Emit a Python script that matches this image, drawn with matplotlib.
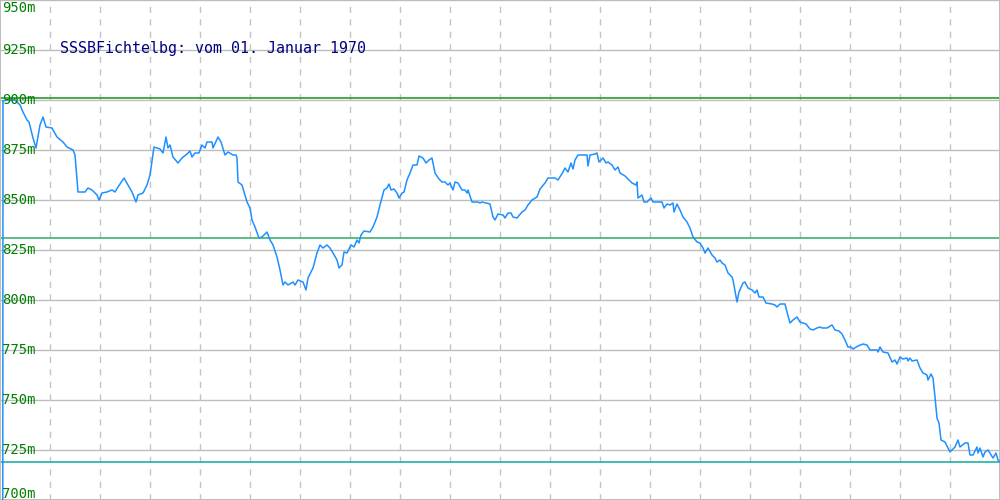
import numpy as np
import matplotlib
matplotlib.use("Agg")
import matplotlib.pyplot as plt
import matplotlib.transforms as mtransforms

# x position along the chart (pixel columns of the original), height in m
t = [2, 3, 7, 10, 15, 20, 23, 27, 29, 33, 36, 40, 43, 46, 52, 57, 63, 67, 73, 75,
     78, 85, 88, 92, 97, 99, 102, 107, 112, 115, 118, 124, 128, 132, 136, 138, 143, 147, 150, 154,
     160, 163, 166, 168, 170, 173, 178, 182, 187, 190, 192, 195, 199, 202, 205, 207, 212, 213, 218, 221,
     225, 228, 233, 236, 237, 238, 242, 245, 247, 250, 252, 255, 259, 262, 267, 270, 273, 277, 280, 283,
     285, 288, 293, 295, 298, 303, 306, 308, 313, 317, 320, 323, 327, 330, 333, 337, 339, 342, 344, 347,
     351, 354, 357, 359, 361, 364, 370, 373, 377, 380, 384, 387, 389, 391, 394, 397, 399, 402, 404, 407,
     410, 413, 417, 419, 423, 426, 429, 432, 435, 439, 442, 445, 448, 450, 453, 455, 458, 462, 465, 467,
     468, 472, 478, 480, 482, 490, 493, 495, 498, 503, 505, 508, 511, 513, 517, 522, 525, 528, 532, 537,
     540, 545, 548, 555, 558, 563, 565, 568, 571, 573, 575, 578, 583, 587, 588, 590, 595, 597, 599, 603,
     606, 608, 612, 615, 618, 620, 625, 628, 632, 636, 637, 638, 642, 644, 647, 651, 653, 657, 662, 664,
     667, 670, 673, 674, 677, 680, 683, 687, 690, 693, 697, 700, 703, 705, 708, 712, 715, 717, 720, 722,
     725, 728, 732, 733, 737, 739, 743, 745, 748, 752, 755, 757, 759, 763, 766, 772, 775, 777, 780, 785,
     787, 790, 793, 797, 800, 803, 806, 810, 813, 817, 820, 822, 827, 832, 835, 839, 842, 845, 848, 851,
     853, 858, 863, 867, 870, 877, 878, 880, 883, 888, 892, 895, 897, 900, 903, 907, 908, 910, 912, 917,
     920, 923, 927, 928, 931, 933, 935, 937, 939, 941, 945, 948, 950, 955, 958, 960, 965, 968, 970, 973,
     977, 978, 980, 983, 985, 988, 993, 996, 998, 1000]
hoehe = [0, 899.5, 900, 900, 900, 897.5, 894, 890, 889, 881, 876, 887.5, 891.5, 886.5, 886, 881.5, 879, 876.5, 875, 872.5,
         854, 854, 856, 855, 852.5, 850, 853.5, 854, 855, 854, 856.5, 861, 857.5, 854, 849, 852.5, 853.5, 857.5, 862.5, 876.5,
         875.5, 873.5, 881.5, 876, 877.5, 871.5, 868.5, 871, 873, 874.5, 871.5, 873.5, 873.5, 877.5, 876, 879, 879, 876, 881.5, 879,
         872.5, 874, 872.5, 872.5, 871, 859, 857.5, 852.5, 849, 846, 840, 836.5, 831, 831.5, 834, 830, 827.5, 821.5, 815, 807.5,
         809, 807.5, 809, 807.5, 810, 809, 805, 811, 816, 823.5, 827.5, 826, 827.5, 826, 823.5, 820, 816, 817.5, 824, 823.5,
         827.5, 826.5, 830, 828.5, 832.5, 834.5, 834, 836.5, 841.5, 847.5, 855, 856, 858, 855, 855.5, 853.5, 851, 853.5, 854, 860,
         863.5, 867.5, 867.5, 872, 871, 868.5, 870, 871, 863.5, 860.5, 859, 859, 857.5, 858.5, 855, 859, 858.5, 855, 855, 853.5,
         855, 849, 849, 848.5, 849, 848, 841.5, 840, 843, 842.5, 841, 843.5, 843.5, 841.5, 841, 844, 845, 847.5, 850, 851.5,
         855.5, 858.5, 861, 861, 860, 864, 866, 864, 868.5, 865.5, 870, 872.5, 872.5, 872.5, 867, 872.5, 873, 873.5, 869, 871,
         868.5, 869, 867.5, 865, 866.5, 863.5, 862, 860.5, 858.5, 857.5, 859, 851, 852.5, 849, 849, 851, 849, 849, 849, 846,
         848, 847.5, 848.5, 844, 848, 845, 841.5, 839, 836, 831.5, 829, 828.5, 826, 823.5, 826, 822.5, 821, 819, 820, 818.5,
         817.5, 813.5, 811.5, 810, 799, 804, 808.5, 809, 806, 805, 803.5, 805, 801.5, 801.5, 798.5, 798, 797.5, 796.5, 798, 798,
         794, 788.5, 790, 791.5, 789, 788.5, 788, 785.5, 785, 786, 786.5, 786, 786, 787.5, 785, 784.5, 783, 780, 776.5, 776.5,
         775.5, 777, 778, 777.5, 775, 775, 774, 776.5, 774, 773.5, 769, 770, 768, 771.5, 770.5, 771, 769.5, 771, 769.5, 770,
         766, 763.5, 762.5, 760, 763, 761, 751.5, 741, 738.5, 730, 729, 726, 724, 726.5, 730, 726.5, 728.5, 728.5, 722.5, 722.5,
         726.5, 723.5, 726, 721.5, 724, 725, 721, 723.5, 720, 719]

y_ticks = [700, 725, 750, 775, 800, 825, 850, 875, 900, 925, 950]
x_grid = [50, 100, 150, 200, 250, 300, 350, 400, 450, 500, 550, 600, 650, 700, 750, 800, 850, 900, 950]
linie_max = 901
linie_mitte = 830.8
linie_min = 719
titel = "SSSBFichtelbg: vom 01. Januar 1970"

fig = plt.figure(figsize=(10, 5), dpi=100)
ax = fig.add_axes([0, 0, 1, 1])
ax.set_xlim(0, 1000)
ax.set_ylim(700, 950)
ax.set_xticks([])
ax.set_yticks([])
for s in ax.spines.values():
    s.set_color("#bdbdbd")
    s.set_linewidth(1.4)

# grid
for v in y_ticks:
    ax.axhline(v, color="#bdbdbd", lw=1.0, zorder=1)
for xg in x_grid:
    ax.axvline(xg, color="#c4c4c4", lw=1.0, dashes=(4.5, 4.5), zorder=1)

# reference lines
ax.axhline(linie_max, color="#2e9a2e", lw=1.2, zorder=2)
ax.axhline(linie_mitte, color="#3cb371", lw=1.2, zorder=2)
ax.axhline(linie_min, color="#20b2aa", lw=1.2, zorder=2)

ax.plot(t, hoehe, color="#1e90ff", lw=1.1, zorder=3)

# tick labels drawn inside the plot
trans = mtransforms.blended_transform_factory(ax.transAxes, ax.transData)
for v in y_ticks:
    if v == 950:
        ax.text(0.002, 949.5, f"{v}m", transform=trans, color="#008000",
                fontsize=10, family="DejaVu Sans Mono", va="top", ha="left", zorder=4)
    elif v == 700:
        ax.text(0.002, 701, f"{v}m", transform=trans, color="#008000",
                fontsize=10, family="DejaVu Sans Mono", va="baseline", ha="left", zorder=4)
    else:
        ax.text(0.002, v - 2, f"{v}m", transform=trans, color="#008000",
                fontsize=10, family="DejaVu Sans Mono", va="baseline", ha="left", zorder=4)

ax.text(60, 926, titel, color="#000080", fontsize=10.8, family="DejaVu Sans Mono",
        va="center", ha="left", zorder=4)

fig.savefig("out.png", dpi=100)
